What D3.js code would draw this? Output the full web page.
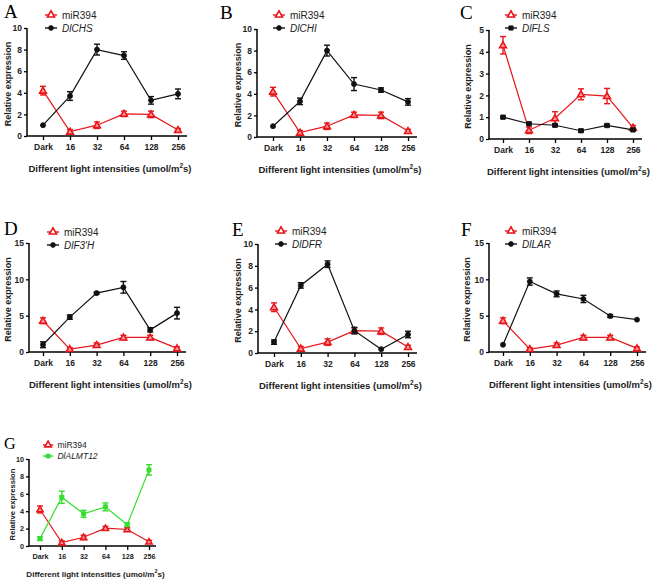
<!DOCTYPE html>
<html><head><meta charset="utf-8">
<script src="https://cdn.jsdelivr.net/npm/d3@7"></script>
<style>body{margin:0;background:#fff}</style>
</head><body>
<svg id="c" width="656" height="579"></svg>
<script>
const categories = ["Dark","16","32","64","128","256"];
const mir394 = {
  A:[4.2,0.4,1.0,2.05,2.0,0.55], B:[4.2,0.4,1.0,2.05,2.0,0.55], C:[4.3,0.4,0.95,2.05,1.97,0.52],
  D:[4.3,0.4,0.95,2.0,2.0,0.5], E:[4.2,0.4,1.0,2.05,2.0,0.55], F:[4.3,0.4,0.95,2.0,2.0,0.5],
  G:[4.2,0.4,1.0,2.05,1.9,0.5]
};
const mir394Err = {
  A:[0.4,0.2,0.3,0.25,0.3,0.15], B:[0.4,0.2,0.3,0.25,0.3,0.15], C:[0.4,0.15,0.3,0.25,0.35,0.1],
  D:[0.4,0.2,0.3,0.3,0.3,0.2], E:[0.4,0.2,0.3,0.25,0.3,0.15], F:[0.4,0.2,0.3,0.3,0.3,0.2],
  G:[0.4,0.2,0.25,0.2,0.2,0.15]
};
const geneNames = {A:"DlCHS",B:"DlCHI",C:"DlFLS",D:"DlF3'H",E:"DlDFR",F:"DlLAR",G:"DlALMT12"};
const geneVals = {
  A:[1.0,3.7,8.0,7.45,3.3,3.9], B:[1.0,3.3,8.0,4.9,4.35,3.25], C:[1.0,0.7,0.63,0.38,0.62,0.42],
  D:[1.0,4.8,8.1,8.9,3.05,5.35], E:[1.0,6.2,8.15,2.05,0.35,1.7], F:[1.0,9.7,8.0,7.3,4.95,4.45],
  G:[0.85,5.6,3.7,4.5,2.45,8.75]
};
const geneErr = {
  A:[0.05,0.4,0.5,0.35,0.35,0.45], B:[0.05,0.3,0.5,0.6,0.2,0.3], C:[0.05,0.05,0.05,0.05,0.05,0.05],
  D:[0.4,0.3,0.15,0.8,0.3,0.8], E:[0.2,0.25,0.3,0.3,0.05,0.3], F:[0.05,0.5,0.4,0.5,0.2,0.1],
  G:[0.2,0.7,0.4,0.45,0.2,0.6]
};
const yMax = {A:10,B:10,C:5,D:15,E:10,F:15,G:10};
const yTicks = {A:[0,2,4,6,8,10],B:[0,2,4,6,8,10],C:[0,1,2,3,4,5],D:[0,5,10,15],E:[0,2,4,6,8,10],F:[0,5,10,15],G:[0,2,4,6,8,10]};

// layout (pixels)
const layout = {
  A:{ax:27,top:28,bot:136,x0:43,x1:178,xe:187,ly:15,lx:45,letX:4,letY:18,ytx:8,fs:1},
  B:{ax:257,top:29,bot:137,x0:273,x1:408,xe:417,ly:15,lx:273,letX:220,letY:19,ytx:238,fs:1},
  C:{ax:489,top:30,bot:139,x0:503,x1:633,xe:642,ly:15,lx:505,letX:460,letY:19,ytx:468,fs:1},
  D:{ax:29,top:243,bot:352,x0:43,x1:177,xe:186,ly:232,lx:47,letX:4,letY:235,ytx:8,fs:1},
  E:{ax:258,top:244,bot:353,x0:274,x1:408,xe:417,ly:231,lx:275,letX:232,letY:236,ytx:238,fs:1},
  F:{ax:489,top:243,bot:352,x0:503,x1:637,xe:646,ly:231,lx:505,letX:461,letY:236,ytx:467,fs:1},
  G:{ax:29,top:459,bot:546,x0:40,x1:149,xe:156,ly:445,lx:43,letX:4,letY:449,ytx:12,fs:0.85}
};
const red = "#e8161b", black = "#111", green = "#35dd2f";
const geneColor = {A:black,B:black,C:black,D:black,E:black,F:black,G:green};
const geneShape = {A:d3.symbolCircle,B:d3.symbolCircle,C:d3.symbolSquare,D:d3.symbolCircle,E:d3.symbolCircle,F:d3.symbolCircle,G:d3.symbolSquare};

const svg = d3.select("#c");
const font = "'Liberation Sans', Arial, sans-serif";

Object.keys(layout).forEach(k => {
  const L = layout[k], s = L.fs;
  const g = svg.append("g");
  const x = d3.scalePoint().domain(categories).range([L.x0, L.x1]);
  const y = d3.scaleLinear().domain([0, yMax[k]]).range([L.bot, L.top]);

  const ya = d3.axisLeft(y).tickValues(yTicks[k]).tickFormat(d3.format("d")).tickSize(3).tickPadding(2);
  const yg = g.append("g").attr("transform", `translate(${L.ax},0)`).call(ya);
  yg.select(".domain").attr("d", `M0,${L.top}V${L.bot}`);
  const xa = d3.axisBottom(x).tickSize(4).tickPadding(4);
  const xg = g.append("g").attr("transform", `translate(0,${L.bot})`).call(xa);
  xg.select(".domain").attr("d", `M${L.ax},0H${L.xe}`);
  [yg, xg].forEach(a => {
    a.selectAll(".domain").attr("stroke", "#000").attr("stroke-width", 1.5);
    a.selectAll(".tick line").attr("stroke", "#000").attr("stroke-width", 1.3);
    a.selectAll("text").attr("font-family", font).attr("font-weight", "bold")
      .attr("font-size", 8.5 * s).attr("fill", "#222");
  });

  g.append("text").attr("x", (L.ax + L.xe) / 2 + 3).attr("y", L.bot + 36 * s)
    .attr("text-anchor", "middle").attr("font-family", font).attr("font-weight", "bold")
    .attr("font-size", 9.5 * s).attr("fill", "#222")
    .html(`Different light intensities (umol/m<tspan dy="-4" font-size="${6.5*s}">2</tspan><tspan dy="4">s)</tspan>`);
  g.append("text").attr("transform", `translate(${L.ytx + 3},${(L.top + L.bot) / 2 + 2}) rotate(-90)`)
    .attr("text-anchor", "middle").attr("font-family", font).attr("font-weight", "bold")
    .attr("font-size", 9 * s).attr("fill", "#222").text("Relative expression");
  g.append("text").attr("x", L.letX).attr("y", L.letY).attr("font-family", "'Liberation Serif', 'Times New Roman', serif")
    .attr("font-size", 19 * s).attr("fill", "#000").text(k);

  const series = [
    {vals: mir394[k], err: mir394Err[k], color: red, shape: d3.symbolTriangle, open: true},
    {vals: geneVals[k], err: geneErr[k], color: geneColor[k], shape: geneShape[k], open: false}
  ];
  const line = d3.line().x((d, i) => x(categories[i])).y(d => y(d));
  series.forEach(se => {
    g.append("path").attr("d", line(se.vals)).attr("fill", "none")
      .attr("stroke", se.color).attr("stroke-width", 1.2);
    se.vals.forEach((v, i) => {
      const cx = x(categories[i]);
      const e = se.err[i];
      const eb = g.append("g").attr("stroke", se.color).attr("stroke-width", 1.4);
      if (y(v - e) - y(v + e) > 2) {
        eb.append("line").attr("x1", cx).attr("x2", cx).attr("y1", y(v - e)).attr("y2", y(v + e));
        eb.append("line").attr("x1", cx - 3).attr("x2", cx + 3).attr("y1", y(v + e)).attr("y2", y(v + e));
        eb.append("line").attr("x1", cx - 3).attr("x2", cx + 3).attr("y1", y(v - e)).attr("y2", y(v - e));
      }
      g.append("path").attr("transform", `translate(${cx},${y(v) + (se.open ? 0.5 : 0)})`)
        .attr("d", d3.symbol().type(se.shape).size(20 * s)())
        .attr("fill", se.open ? "#f99" : se.color).attr("stroke", se.color)
        .attr("stroke-width", se.open ? 1.6 : 0.8);
    });
  });

  const leg = [
    {name: "miR394", color: red, shape: d3.symbolTriangle, open: true, italic: false},
    {name: geneNames[k], color: geneColor[k], shape: geneShape[k], open: false, italic: true}
  ];
  const lh = 13 * s;
  leg.forEach((l, i) => {
    const ly = L.ly + i * lh, lw = 12 * s;
    g.append("line").attr("x1", L.lx).attr("x2", L.lx + lw).attr("y1", ly).attr("y2", ly)
      .attr("stroke", l.color).attr("stroke-width", 1.4);
    g.append("path").attr("transform", `translate(${L.lx + lw / 2},${ly})`)
      .attr("d", d3.symbol().type(l.shape).size(l.open ? 22 * s : 18 * s)())
      .attr("fill", l.open ? "#fff" : l.color).attr("stroke", l.color).attr("stroke-width", l.open ? 1.6 : 0.8);
    g.append("text").attr("x", L.lx + lw + 5 * s).attr("y", ly + 3.5 * s)
      .attr("font-family", font).attr("font-size", 10 * s).attr("fill", "#222")
      .attr("font-style", l.italic ? "italic" : "normal").text(l.name);
  });
});
</script>
</body></html>
